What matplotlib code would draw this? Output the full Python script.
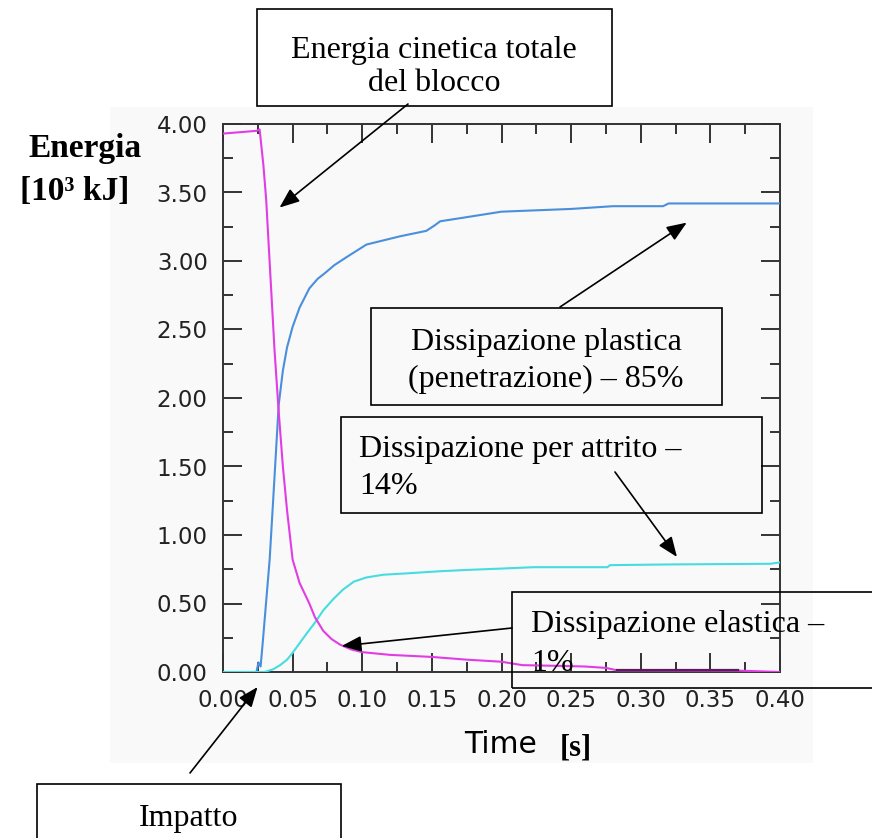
import matplotlib
matplotlib.use("Agg")

import matplotlib.pyplot as plt
from matplotlib.patches import Rectangle
from matplotlib.ticker import MultipleLocator

W, H = 872, 838

# energia cinetica (magenta)
t_kin = [0.0, 0.024, 0.0263, 0.029, 0.031, 0.034, 0.037, 0.040, 0.043, 0.046,
         0.050, 0.055, 0.062, 0.066, 0.072, 0.078, 0.084, 0.092, 0.100, 0.120,
         0.150, 0.175, 0.200, 0.215, 0.240, 0.260, 0.275, 0.283, 0.370, 0.400]
e_kin = [3.93, 3.95, 3.96, 3.70, 3.45, 2.90, 2.35, 1.90, 1.50, 1.18,
         0.82, 0.65, 0.50, 0.40, 0.30, 0.24, 0.20, 0.165, 0.145, 0.125,
         0.11, 0.09, 0.075, 0.05, 0.045, 0.04, 0.03, 0.012, 0.01, 0.0]

# dissipazione plastica (blu)
t_pla = [0.0, 0.024, 0.0255, 0.027, 0.0285, 0.0335, 0.036, 0.038, 0.040, 0.043,
         0.046, 0.050, 0.055, 0.062, 0.068, 0.073, 0.080, 0.089, 0.103, 0.127,
         0.146, 0.152, 0.156, 0.175, 0.200, 0.250, 0.280, 0.316, 0.320, 0.400]
e_pla = [0.0, 0.0, 0.07, 0.04, 0.21, 0.82, 1.25, 1.60, 1.95, 2.20,
         2.37, 2.52, 2.66, 2.80, 2.87, 2.91, 2.97, 3.03, 3.12, 3.18,
         3.22, 3.26, 3.29, 3.32, 3.36, 3.38, 3.40, 3.40, 3.42, 3.42]

# dissipazione per attrito (ciano)
t_att = [0.0, 0.030, 0.036, 0.041, 0.046, 0.050, 0.055, 0.060, 0.066, 0.072,
         0.079, 0.086, 0.094, 0.103, 0.115, 0.132, 0.155, 0.175, 0.200, 0.223,
         0.250, 0.276, 0.278, 0.320, 0.393, 0.400]
e_att = [0.0, 0.0, 0.02, 0.05, 0.09, 0.14, 0.21, 0.28, 0.36, 0.45,
         0.53, 0.60, 0.66, 0.69, 0.71, 0.72, 0.735, 0.745, 0.755, 0.765,
         0.765, 0.765, 0.78, 0.785, 0.79, 0.80]

# dissipazione elastica (viola scuro)
t_ela = [0.283, 0.370]
e_ela = [0.012, 0.012]

x_ticks = [0.00, 0.05, 0.10, 0.15, 0.20, 0.25, 0.30, 0.35, 0.40]
y_ticks = [0.00, 0.50, 1.00, 1.50, 2.00, 2.50, 3.00, 3.50, 4.00]

SERIF = "Liberation Serif"
SANS = "DejaVu Sans"
BG = "#f8f9f8"


def fx(px):
    return px / W


def fy(py):
    return 1 - py / H


fig = plt.figure(figsize=(W / 100, H / 100), dpi=100)
fig.patch.set_facecolor("white")
fig.patches.append(Rectangle((fx(110), fy(763)), fx(813) - fx(110), fy(107) - fy(763),
                             transform=fig.transFigure, facecolor=BG, edgecolor="none",
                             zorder=-5))

ax = fig.add_axes([fx(223), fy(672), fx(780) - fx(223), fy(124) - fy(672)])
ax.set_facecolor(BG)

ax.plot(t_pla, e_pla, color="#4a8fdc", lw=1.5, zorder=3)
ax.plot(t_att, e_att, color="#46dce0", lw=1.5, zorder=3)
ax.plot(t_kin, e_kin, color="#e23ce4", lw=1.5, zorder=4)
ax.plot(t_ela, e_ela, color="#5e1a5e", lw=1.6, zorder=5)

ax.set_xlim(0, 0.40)
ax.set_ylim(0, 4.00)
ax.set_xticks(x_ticks)
ax.set_yticks(y_ticks)
ax.set_xticklabels([f"{v:.2f}" for v in x_ticks])
ax.set_yticklabels([f"{v:.2f}" for v in y_ticks])
ax.xaxis.set_minor_locator(MultipleLocator(0.025))
ax.yaxis.set_minor_locator(MultipleLocator(0.25))

ax.tick_params(which="both", direction="in", top=True, right=True,
               color="#333333", width=1.4)
ax.tick_params(which="major", length=14)
ax.tick_params(which="minor", length=7)
ax.tick_params(axis="x", which="major", pad=12, labelsize=16.5, labelcolor="#222222")
ax.tick_params(axis="y", which="major", pad=11, labelsize=16.5, labelcolor="#222222")
for lab in ax.get_xticklabels() + ax.get_yticklabels():
    lab.set_family(SANS)
for s in ax.spines.values():
    s.set_color("#333333")
    s.set_linewidth(1.4)

# axis labels
fig.text(fx(85), fy(148), "Energia", family=SERIF, weight="bold", fontsize=24,
         ha="center", va="center")
fig.text(fx(75), fy(192), "[10³ kJ]", family=SERIF, weight="bold",
         fontsize=24, ha="center", va="center")
fig.text(fx(501), fy(744), "Time", family=SANS, fontsize=21.5, ha="center", va="center")
fig.text(fx(576), fy(748), "[s]", family=SERIF, weight="bold", fontsize=22,
         ha="center", va="center")

# annotation boxes
boxes = [
    (257, 9, 612, 106),
    (371, 308, 722, 405),
    (341, 417, 762, 513),
    (512, 592, 900, 688),
    (37, 784, 341, 900),
]
for x0, y0, x1, y1 in boxes:
    fig.patches.append(Rectangle((fx(x0), fy(y1)), fx(x1) - fx(x0), fy(y0) - fy(y1),
                                 transform=fig.transFigure, facecolor="none",
                                 edgecolor="black", lw=1.2, zorder=6))

fig.text(fx(434), fy(67), "Energia cinetica totale\ndel blocco", family=SERIF,
         fontsize=23, ha="center", va="center", linespacing=1.2)
fig.text(fx(546), fy(361), "Dissipazione plastica\n(penetrazione) – 85%", family=SERIF,
         fontsize=23, ha="center", va="center", linespacing=1.38)
fig.text(fx(359), fy(468), "Dissipazione per attrito –\n14%", family=SERIF,
         fontsize=23, ha="left", va="center", linespacing=1.38)
fig.text(fx(531), fy(644), "Dissipazione elastica –\n1%", family=SERIF,
         fontsize=23, ha="left", va="center", linespacing=1.42)
fig.text(fx(189), fy(818), "Impatto", family=SERIF, fontsize=23,
         ha="center", va="center")

# arrows: (tip in data coords, tail in figure pixels)
arrows = [
    ((0.0406, 3.39), (408, 104)),
    ((0.333, 3.28), (560, 307)),
    ((0.326, 0.84), (615, 472)),
    ((0.0852, 0.19), (512, 628)),
    ((0.0248, -0.11), (190, 773)),
]
for tip, tail in arrows:
    ax.annotate("", xy=tip, xycoords="data",
                xytext=(fx(tail[0]), fy(tail[1])), textcoords="figure fraction",
                arrowprops=dict(arrowstyle="-|>,head_length=0.55,head_width=0.22",
                                color="black", lw=1.2,
                                mutation_scale=22, shrinkA=0, shrinkB=0),
                annotation_clip=False, zorder=7)

fig.savefig("out.png", dpi=100)
